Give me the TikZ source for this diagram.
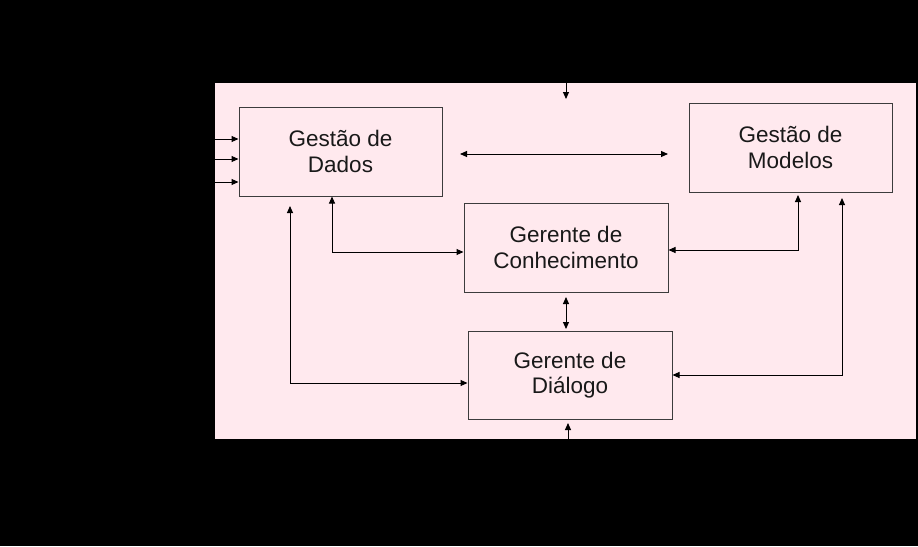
\documentclass[tikz,border=0pt]{standalone}
\usepackage{fontspec}
\setmainfont{Liberation Sans}
\usetikzlibrary{arrows.meta}
\definecolor{pinkbg}{RGB}{255,233,238}
\definecolor{boxline}{RGB}{60,60,60}
\tikzset{
  box/.style={draw=boxline, line width=1pt, fill=pinkbg, align=center, inner sep=0pt,
    font=\fontsize{22.5}{25.5}\selectfont, text=black!90},
  conn/.style={draw=black, line width=1pt, arrows={-Triangle[length=7pt,width=6pt]}},
  conn2/.style={draw=black, line width=1pt, arrows={Triangle[length=7pt,width=6pt]-Triangle[length=7pt,width=6pt]}}
}
\begin{document}
\begin{tikzpicture}[x=1pt,y=-1pt]
\fill[black] (0,0) rectangle (918,546);
\useasboundingbox (0,0) rectangle (918,546);
\fill[pinkbg] (215,83) rectangle (916,439);

\node[box, minimum width=203pt, minimum height=89pt] (gd) at (340.5,151.5) {Gestão de\\Dados};
\node[box, minimum width=203pt, minimum height=89pt] (gm) at (790.5,147.5) {Gestão de\\Modelos};
\node[box, minimum width=204pt, minimum height=89pt] (gc) at (566,247.5) {Gerente de\\Conhecimento};
\node[box, minimum width=204pt, minimum height=88pt] (gdi) at (570,375) {Gerente de\\Diálogo};

% free ends
\coordinate (topin) at (566,83);
\coordinate (topend) at (566,99);
\coordinate (in1) at (215,139);
\coordinate (in2) at (215,159);
\coordinate (in3) at (215,182);
\coordinate (hl) at (460,154);
\coordinate (hr) at (668,154);
\coordinate (gdb) at (290,206);
\coordinate (gcdt) at (566,297);
\coordinate (gcdb) at (566,329);
\coordinate (gmb1) at (798,195);
\coordinate (gmb2) at (842,198);
\coordinate (botin) at (568,439);
\coordinate (botend) at (568,423);

\draw[conn] (topin) -- (topend);
\draw[conn] (in1) -- (in1 -| gd.west);
\draw[conn] (in2) -- (in2 -| gd.west);
\draw[conn] (in3) -- (in3 -| gd.west);
\draw[conn2] (hl) -- (hr);
\draw[conn2] (gd.south -| 332,0) |- (gc.west |- 0,252);
\draw[conn2] (gdb) |- (gdi.west |- 0,383);
\draw[conn2] (gcdt) -- (gcdb);
\draw[conn2] (gmb1) |- (gc.east |- 0,250);
\draw[conn2] (gmb2) |- (gdi.east |- 0,375);
\draw[conn] (botin) -- (botend);
\end{tikzpicture}
\end{document}
